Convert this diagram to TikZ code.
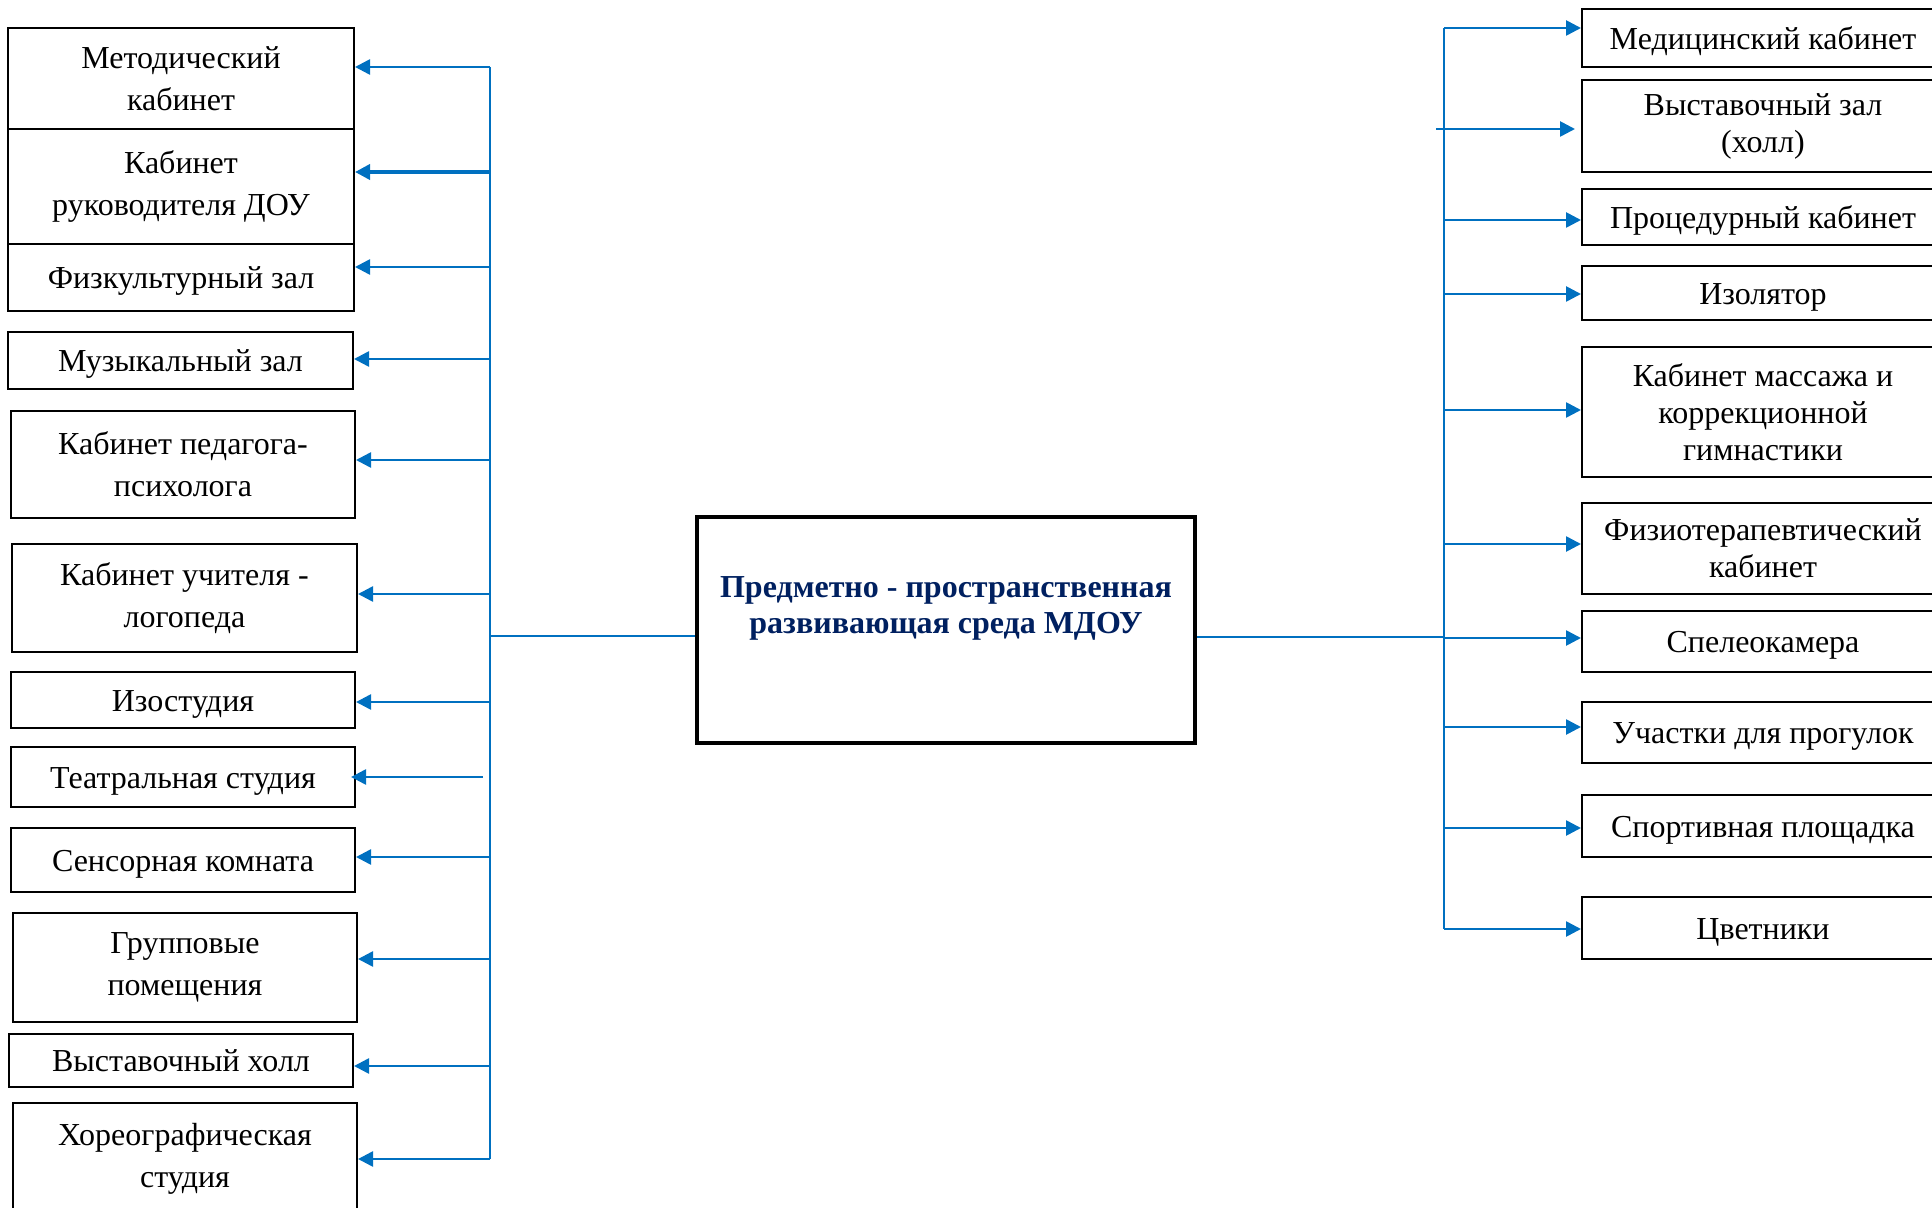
\documentclass[tikz,border=0pt]{standalone}
\usepackage{fontspec}
\setmainfont{Liberation Serif}
\usetikzlibrary{arrows.meta}
\definecolor{lineblue}{RGB}{0,112,192}
\definecolor{navytext}{RGB}{0,32,96}
\begin{document}
\begin{tikzpicture}[x=0.5pt,y=-0.5pt,
  lbox/.style={draw=black,line width=1pt,inner sep=0pt,align=center,font=\fontsize{16}{21}\selectfont},
  rbox/.style={draw=black,line width=1pt,inner sep=0pt,align=center,minimum width=181pt,font=\fontsize{16}{18.5}\selectfont},
  oneline/.style={text height=11.2pt,text depth=0pt},
  arr/.style={draw=lineblue,line width=1.3pt,-{Triangle[length=7.5pt,width=7.5pt]}},
  trunk/.style={draw=lineblue,line width=1pt}]
\useasboundingbox (0,0) rectangle (1932,1208);
\clip (0,0) rectangle (1932,1208);

% ---------- left boxes ----------
\node[lbox,minimum width=173pt,minimum height=50.5pt] (met) at (181,78.5) {Методический\\кабинет};
\node[lbox,minimum width=173pt,minimum height=57.5pt] (ruk) at (181,186.5) {Кабинет\\руководителя ДОУ};
\node[lbox,oneline,minimum width=173pt,minimum height=33.5pt] (fiz) at (181,277.5) {Физкультурный зал};
\node[lbox,oneline,minimum width=172.5pt,minimum height=28.5pt] (muz) at (180.5,360.5) {Музыкальный зал};
\node[lbox,minimum width=172pt,minimum height=53.5pt] (psy) at (183,464.5) {Кабинет педагога-\\психолога};
\node[lbox,minimum width=172.5pt,minimum height=54pt] (log) at (184.5,598) {Кабинет учителя -\\логопеда};
\node[lbox,oneline,minimum width=172pt,minimum height=28pt] (izo) at (183,700) {Изостудия};
\node[lbox,oneline,minimum width=172pt,minimum height=30pt] (tea) at (183,777) {Театральная студия};
\node[lbox,oneline,minimum width=172pt,minimum height=32pt] (sen) at (183,860) {Сенсорная комната};
\node[lbox,minimum width=172pt,minimum height=54.5pt] (grp) at (185,967.5) {Групповые\\помещения};
\node[lbox,oneline,minimum width=172pt,minimum height=26.5pt] (vyh) at (181,1060.5) {Выставочный холл};
\node[lbox,minimum width=172pt,minimum height=56pt] (hor) at (185,1159) {Хореографическая\\студия};

% ---------- centre ----------
\node[draw=black,line width=2pt,minimum width=249pt,minimum height=113pt,inner sep=0pt] (ctr) at (946,630) {};
\node[font=\bfseries\fontsize{16}{18}\selectfont,text=navytext,align=center,inner sep=0pt] (ctrtext) at (946,608)
  {Предметно - пространственная\\развивающая среда МДОУ};

% ---------- right boxes ----------
\node[rbox,oneline,minimum height=29pt] (med) at (1763,38) {Медицинский кабинет};
\node[rbox,minimum height=46pt] (vzl) at (1763,126) {Выставочный зал\\(холл)};
\node[rbox,oneline,minimum height=28pt] (pro) at (1763,217) {Процедурный кабинет};
\node[rbox,oneline,minimum height=27pt] (iso) at (1763,293) {Изолятор};
\node[rbox,minimum height=65pt] (mas) at (1763,412) {Кабинет массажа и\\коррекционной\\гимнастики};
\node[rbox,minimum height=45.5pt] (fzt) at (1763,548.5) {Физиотерапевтический\\кабинет};
\node[rbox,oneline,minimum height=30.5pt] (spe) at (1763,641.5) {Спелеокамера};
\node[rbox,oneline,minimum height=30.5pt] (uch) at (1763,732.5) {Участки для прогулок};
\node[rbox,oneline,minimum height=31pt] (spo) at (1763,826) {Спортивная площадка};
\node[rbox,oneline,minimum height=31pt] (cvt) at (1763,928) {Цветники};

% ---------- left connectors ----------
\coordinate (LT) at (490,67);
\coordinate (LB) at (490,1159);
\coordinate (ML) at (490,636);
\draw[trunk] (LT) -- (LB);
\draw[trunk] (ML) -- (ML -| ctr.west);
\draw[arr] (LT) -- (LT -| met.east);
\coordinate (l2) at (490,172);  \draw[arr,line width=1.8pt] (l2) -- (l2 -| ruk.east);
\coordinate (l3) at (490,267);  \draw[arr] (l3) -- (l3 -| fiz.east);
\coordinate (l4) at (490,359);  \draw[arr] (l4) -- (l4 -| muz.east);
\coordinate (l5) at (490,460);  \draw[arr] (l5) -- (l5 -| psy.east);
\coordinate (l6) at (490,594);  \draw[arr] (l6) -- (l6 -| log.east);
\coordinate (l7) at (490,702);  \draw[arr] (l7) -- (l7 -| izo.east);
\coordinate (l8) at (483,777);  \draw[arr,shorten >=-2.5pt] (l8) -- (l8 -| tea.east);
\coordinate (l9) at (490,857);  \draw[arr] (l9) -- (l9 -| sen.east);
\coordinate (l10) at (490,959); \draw[arr] (l10) -- (l10 -| grp.east);
\coordinate (l11) at (490,1066); \draw[arr] (l11) -- (l11 -| vyh.east);
\draw[arr] (LB) -- (LB -| hor.east);

% ---------- right connectors ----------
\coordinate (RT) at (1444,28);
\coordinate (RB) at (1444,929);
\coordinate (MR) at (1444,637);
\draw[trunk] (RT) -- (RB);
\draw[trunk] (MR -| ctr.east) -- (MR);
\draw[arr] (RT) -- (RT -| med.west);
\coordinate (r2) at (1436,129); \draw[arr,shorten >=3pt] (r2) -- (r2 -| vzl.west);
\coordinate (r3) at (1444,220); \draw[arr] (r3) -- (r3 -| pro.west);
\coordinate (r4) at (1444,294); \draw[arr] (r4) -- (r4 -| iso.west);
\coordinate (r5) at (1444,410); \draw[arr] (r5) -- (r5 -| mas.west);
\coordinate (r6) at (1444,544); \draw[arr] (r6) -- (r6 -| fzt.west);
\coordinate (r7) at (1444,638); \draw[arr] (r7) -- (r7 -| spe.west);
\coordinate (r8) at (1444,727); \draw[arr] (r8) -- (r8 -| uch.west);
\coordinate (r9) at (1444,828); \draw[arr] (r9) -- (r9 -| spo.west);
\draw[arr] (RB) -- (RB -| cvt.west);
\end{tikzpicture}
\end{document}
